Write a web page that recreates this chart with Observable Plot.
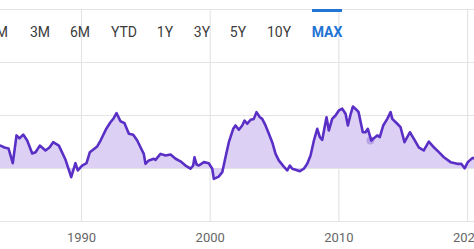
<!DOCTYPE html>
<html>
<head>
<meta charset="utf-8">
<script src="https://cdn.jsdelivr.net/npm/d3@7"></script>
<script src="https://cdn.jsdelivr.net/npm/@observablehq/plot@0.6"></script>
<style>
  html, body { margin: 0; padding: 0; background: #fff; overflow: hidden; }
  #wrap { position: relative; width: 474px; height: 249px; font-family: Roboto, "Noto Sans", sans-serif; }
  #btns span { position: absolute; top: 24px; transform: translateX(-50%); font-size: 14px; color: #3c3c3c; white-space: nowrap; }
  #btns span.active { color: #1f74d4; font-weight: 700; }
  #bar { position: absolute; left: 312px; top: 9px; width: 30px; height: 3px; background: #1f74d4; }
</style>
</head>
<body>
<div id="wrap"><div id="chart"></div><div id="btns"></div><div id="bar"></div></div>
<script>
// Range buttons
const buttons = ["1M", "3M", "6M", "YTD", "1Y", "3Y", "5Y", "10Y", "MAX"];
const activeButton = "MAX";
// Axis ticks
const yearTicks = [1990, 2000, 2010, 2020];
const gridValues = [-2.5, 0, 2.5, 5, 7.5];
// Series: decimal year and spread value (%)
const years = [1983.70,1984.01,1984.33,1984.66,1984.95,1985.18,1985.47,1985.78,1986.17,1986.43,1986.76,1987.20,1987.51,1987.80,1988.24,1988.76,1989.20,1989.53,1989.71,1990.05,1990.39,1990.65,1991.22,1991.48,1991.94,1992.25,1992.49,1992.72,1993.03,1993.34,1993.68,1994.02,1994.33,1994.64,1994.84,1994.97,1995.23,1995.62,1995.75,1996.14,1996.53,1996.92,1997.31,1997.69,1998.08,1998.47,1998.68,1998.78,1998.94,1999.12,1999.51,1999.89,2000.16,2000.28,2000.67,2000.94,2001.19,2001.45,2001.79,2001.97,2002.23,2002.49,2002.67,2002.88,2003.14,2003.39,2003.60,2003.86,2004.04,2004.30,2004.56,2004.82,2005.08,2005.33,2005.72,2005.99,2006.19,2006.38,2006.63,2006.97,2007.28,2007.54,2007.80,2008.06,2008.32,2008.52,2008.71,2008.89,2009.04,2009.22,2009.48,2009.74,2010.00,2010.26,2010.52,2010.70,2010.91,2011.09,2011.43,2011.53,2011.86,2012.07,2012.25,2012.52,2012.72,2012.98,2013.18,2013.45,2013.76,2014.02,2014.15,2014.54,2014.79,2015.10,2015.52,2015.83,2016.21,2016.60,2016.99,2017.38,2017.77,2018.16,2018.68,2019.20,2019.51,2019.77,2020.02,2020.37,2020.55];
const values = [1.08,0.99,0.94,0.25,1.56,1.42,1.60,1.32,0.71,0.77,1.08,0.85,0.99,1.24,1.08,0.41,-0.41,0.25,-0.09,0.14,0.25,0.77,1.04,1.32,1.89,2.18,2.36,2.61,2.23,2.14,1.64,1.59,1.32,0.93,0.69,0.22,0.38,0.46,0.41,0.69,0.61,0.66,0.46,0.34,0.14,-0.01,0.14,0.53,0.19,0.14,0.30,0.25,-0.01,-0.49,-0.38,-0.17,0.53,1.24,1.87,2.03,1.83,2.03,2.26,2.11,2.30,2.34,2.66,2.42,2.34,2.03,1.64,1.24,0.69,0.38,0.09,-0.09,0.14,-0.01,-0.06,-0.13,-0.01,0.22,0.61,1.32,1.87,1.48,1.35,1.95,2.42,1.79,2.34,2.50,2.74,2.82,2.58,2.03,2.55,2.92,2.74,2.66,1.71,1.71,1.87,1.32,1.43,1.56,1.48,2.03,2.34,2.66,2.34,2.11,1.95,1.24,1.71,1.40,1.00,0.85,1.27,1.00,0.77,0.53,0.30,0.22,0.22,0.01,0.30,0.49,0.49];
// Hover marker
const markerYear = [2012.45];
const markerValue = [1.32];

const data = years.map((t, i) => ({t, v: values[i]}));
const marker = markerYear.map((t, i) => ({t, v: markerValue[i]}));

const chart = Plot.plot({
  width: 474,
  height: 249,
  marginLeft: 0,
  marginRight: 0,
  marginTop: 9,
  marginBottom: 28,
  style: {fontFamily: "Roboto, sans-serif", fontSize: "13px", color: "#666", background: "#fff", overflow: "visible"},
  x: {domain: [1983.705, 2020.54], ticks: yearTicks, tickSize: 0, tickPadding: 11, tickFormat: d => String(d), label: null},
  y: {domain: [-2.5, 7.5], axis: null},
  marks: [
    Plot.ruleY(gridValues, {stroke: "#e4e4e4", strokeWidth: 1}),
    Plot.ruleX(yearTicks, {stroke: "#e4e4e4", strokeWidth: 1.2}),
    Plot.areaY(data, {x: "t", y1: 0, y2: "v", fill: "#dcd1f4", fillOpacity: 1}),
    Plot.dot(marker, {x: "t", y: "v", r: 4, fill: "#b7a3e8", stroke: "none"}),
    Plot.lineY(data, {x: "t", y: "v", stroke: "#5a2fc6", strokeWidth: 2.6, strokeLinejoin: "round"})
  ]
});
document.getElementById("chart").appendChild(chart);

const centers = [-2, 40, 80, 124, 165, 202, 238, 279, 327];
const btns = document.getElementById("btns");
buttons.forEach((b, i) => {
  const s = document.createElement("span");
  s.textContent = b;
  s.style.left = centers[i] + "px";
  if (b === activeButton) s.className = "active";
  btns.appendChild(s);
});
</script>
</body>
</html>
